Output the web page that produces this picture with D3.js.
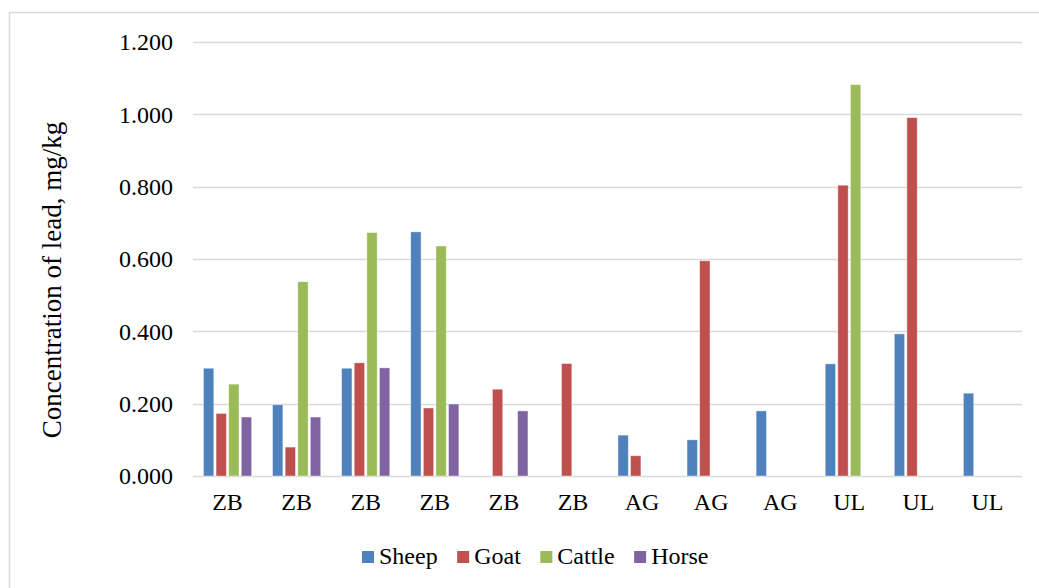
<!DOCTYPE html>
<html>
<head>
<meta charset="utf-8">
<script src="https://cdn.jsdelivr.net/npm/d3@7"></script>
<style>
  html, body { margin: 0; padding: 0; background: #fff; }
  svg { display: block; }
</style>
</head>
<body>
<svg id="chart"></svg>
<script>
const width = 1039;
const height = 588;
const FONT = "Liberation Serif";
const FS = 24;

// data
const sites = ["ZB", "ZB", "ZB", "ZB", "ZB", "ZB", "AG", "AG", "AG", "UL", "UL", "UL"];
const series = ["Sheep", "Goat", "Cattle", "Horse"];
const sheep  = [0.298, 0.197, 0.298, 0.675, 0,     0,     0.113, 0.100, 0.180, 0.310, 0.393, 0.229];
const goat   = [0.173, 0.080, 0.313, 0.188, 0.240, 0.311, 0.056, 0.595, 0,     0.804, 0.991, 0];
const cattle = [0.254, 0.537, 0.673, 0.636, 0,     0,     0,     0,     0,     1.082, 0,     0];
const horse  = [0.163, 0.163, 0.299, 0.199, 0.180, 0,     0,     0,     0,     0,     0,     0];
const yTicks = [0, 0.2, 0.4, 0.6, 0.8, 1.0, 1.2];
const colors = ["#4F81BD", "#C0504D", "#9BBB59", "#8064A2"];

const values = [sheep, goat, cattle, horse];
const rows = sites.map((s, i) => ({ idx: i, site: s, vals: values.map(v => v[i]) }));

const svg = d3.select("#chart").attr("width", width).attr("height", height);

// outer chart frame (only top and left are inside the picture)
svg.append("path")
    .attr("d", `M9.5,${height}V12.5H${width}`)
    .attr("fill", "none")
    .attr("stroke", "#D9D9D9")
    .attr("stroke-width", 1.5);

const plot = { left: 193, right: 1022, top: 42, bottom: 476 };

const x0 = d3.scaleBand()
    .domain(rows.map(d => d.idx))
    .range([plot.left, plot.right])
    .padding(0);

const x1 = d3.scaleBand()
    .domain(series)
    .range([0, x0.bandwidth()])
    .paddingInner(0.18)
    .paddingOuter(0.83);

const y = d3.scaleLinear().domain([0, 1.2]).range([plot.bottom, plot.top]);

// gridlines
svg.append("g")
    .attr("class", "grid")
    .selectAll("line")
    .data(yTicks)
    .enter().append("line")
    .attr("x1", plot.left)
    .attr("x2", plot.right)
    .attr("y1", d => Math.round(y(d)) + 0.5)
    .attr("y2", d => Math.round(y(d)) + 0.5)
    .attr("stroke", "#D9D9D9")
    .attr("stroke-width", 1.5);

// y axis labels
const yAxis = svg.append("g")
    .attr("transform", `translate(${plot.left - 20},0)`)
    .call(d3.axisLeft(y).tickValues(yTicks).tickFormat(d3.format(".3f")).tickSize(0).tickPadding(0));
yAxis.select(".domain").remove();
yAxis.attr("font-family", FONT).attr("font-size", FS);
yAxis.selectAll("text")
    .attr("font-family", FONT)
    .attr("font-size", FS)
    .attr("fill", "#000");

// bars
const groups = svg.append("g")
    .attr("class", "bars")
    .selectAll("g")
    .data(rows)
    .enter().append("g")
    .attr("transform", d => `translate(${x0(d.idx)},0)`);

groups.selectAll("rect")
    .data(d => d.vals.map((v, k) => ({ key: series[k], value: v, k: k })).filter(e => e.value > 0))
    .enter().append("rect")
    .attr("x", d => x1(d.key))
    .attr("width", x1.bandwidth())
    .attr("y", d => y(d.value))
    .attr("height", d => y(0) - y(d.value))
    .attr("fill", d => colors[d.k])
    .attr("stroke", "#fff")
    .attr("stroke-opacity", 0.5)
    .attr("stroke-width", 0.8);

// x axis labels
const xAxis = svg.append("g")
    .attr("transform", `translate(0,${plot.bottom})`)
    .call(d3.axisBottom(x0).tickFormat(i => sites[i]).tickSize(0).tickPadding(17));
xAxis.select(".domain").remove();
xAxis.attr("font-family", FONT).attr("font-size", FS);
xAxis.selectAll("text")
    .attr("font-family", FONT)
    .attr("font-size", FS)
    .attr("fill", "#000");

// y axis title
svg.append("text")
    .attr("transform", "translate(61,280) rotate(-90)")
    .attr("text-anchor", "middle")
    .attr("font-family", FONT)
    .attr("font-size", 27)
    .attr("fill", "#000")
    .text("Concentration of lead, mg/kg");

// legend
const legend = svg.append("g").attr("class", "legend");
let lx = 362;
series.forEach((s, k) => {
    legend.append("rect")
        .attr("x", lx)
        .attr("y", 551)
        .attr("width", 12)
        .attr("height", 12)
        .attr("fill", colors[k]);
    const t = legend.append("text")
        .attr("x", lx + 17)
        .attr("y", 564)
        .attr("font-family", FONT)
        .attr("font-size", FS)
        .attr("fill", "#000")
        .text(s);
    lx += 17 + t.node().getComputedTextLength() + 19.5;
});
</script>
</body>
</html>
